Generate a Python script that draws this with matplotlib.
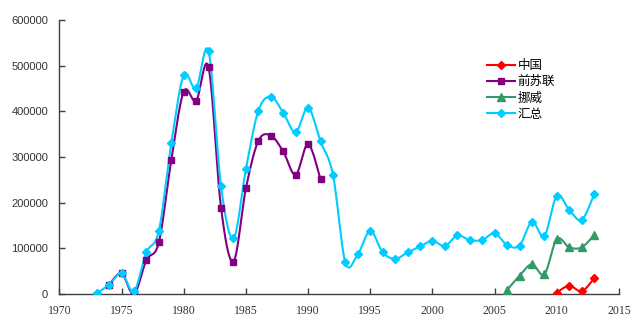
import numpy as np
import matplotlib
matplotlib.use("Agg")
import matplotlib.pyplot as plt
from matplotlib.lines import Line2D

plt.rcParams['font.family'] = ['Noto Sans CJK SC', 'DejaVu Sans']

# Annual values by country
years_china = [2010, 2011, 2012, 2013]
china = [3000, 18000, 6000, 34000]

years_ussr = list(range(1974, 1992))
ussr = [20000, 45000, 0, 74000, 113000, 293000, 443000, 423000, 496000,
        189000, 71000, 231000, 335000, 347000, 312000, 261000, 328000, 251000]

years_norway = list(range(2006, 2014))
norway = [9000, 40000, 65000, 43000, 120000, 102000, 102000, 129000]

years_total = list(range(1973, 2014))
total = [1000, 20000, 45000, 6000, 91000, 138000, 330000, 479000, 450000, 531000,
         236000, 122000, 273000, 401000, 432000, 397000, 354000, 408000, 334000,
         261000, 69000, 87000, 138000, 91000, 77000, 91000, 104000, 116000, 105000,
         128000, 118000, 118000, 133000, 107000, 106000, 158000, 127000, 215000,
         184000, 162000, 218000]

series = [
    ("中国", years_china, china, "#FF0000", "D", 4),
    ("前苏联", years_ussr, ussr, "#800080", "s", 5),
    ("挪威", years_norway, norway, "#339966", "^", 5.5),
    ("汇总", years_total, total, "#00CCFF", "D", 4),
]


def smooth(xs, ys, n=20, t=1/6):
    """Cubic Bezier curve through the points (Catmull-Rom style tangents)."""
    x = np.asarray(xs, float)
    y = np.asarray(ys, float)
    if len(x) < 3:
        return x, y
    px, py = [], []
    for i in range(len(x) - 1):
        i0 = max(i - 1, 0)
        i3 = min(i + 2, len(x) - 1)
        p0 = np.array([x[i], y[i]])
        p3 = np.array([x[i + 1], y[i + 1]])
        c1 = p0 + t * (np.array([x[i + 1], y[i + 1]]) - np.array([x[i0], y[i0]]))
        c2 = p3 - t * (np.array([x[i3], y[i3]]) - np.array([x[i], y[i]]))
        s = np.linspace(0, 1, n, endpoint=(i == len(x) - 2))[:, None]
        pts = ((1 - s) ** 3) * p0 + 3 * ((1 - s) ** 2) * s * c1 + 3 * (1 - s) * s ** 2 * c2 + s ** 3 * p3
        px.append(pts[:, 0])
        py.append(pts[:, 1])
    return np.concatenate(px), np.concatenate(py)


fig = plt.figure(figsize=(6.4, 3.31), dpi=100)
ax = fig.add_axes([0.0927, 0.112, 0.8745, 0.8276])

handles = []
for name, xs, ys, color, marker, ms in series:
    sx, sy = smooth(xs, ys)
    ax.plot(sx, sy, color=color, lw=1.5, zorder=2)
    ax.plot(xs, ys, ls="none", marker=marker, color=color, ms=ms, zorder=3)
    handles.append(Line2D([], [], color=color, lw=1.5, marker=marker, ms=ms, label=name))

ax.set_xlim(1970, 2015)
ax.set_ylim(0, 600000)
ax.set_xticks(range(1970, 2016, 5))
ax.set_yticks(range(0, 600001, 100000))

axis_color = "#404040"
for side in ("top", "right"):
    ax.spines[side].set_visible(False)
for side in ("left", "bottom"):
    ax.spines[side].set_color(axis_color)
    ax.spines[side].set_linewidth(1.0)

ax.tick_params(axis="both", direction="in", length=4, width=1, color=axis_color,
               labelcolor="#333333")
ax.tick_params(axis="y", pad=8)
ax.tick_params(axis="x", pad=8)
for lbl in ax.get_yticklabels():
    lbl.set_fontfamily("Liberation Sans")
    lbl.set_fontsize(8)
for lbl in ax.get_xticklabels():
    lbl.set_fontfamily("Liberation Serif")
    lbl.set_fontsize(8.5)

leg = ax.legend(handles=handles, loc="upper left", bbox_to_anchor=(0.756, 0.875),
                frameon=False, fontsize=9, handlelength=2.2, handletextpad=0.2,
                labelspacing=0.25, borderaxespad=0)

fig.savefig("out.png", dpi=100, facecolor="white")
